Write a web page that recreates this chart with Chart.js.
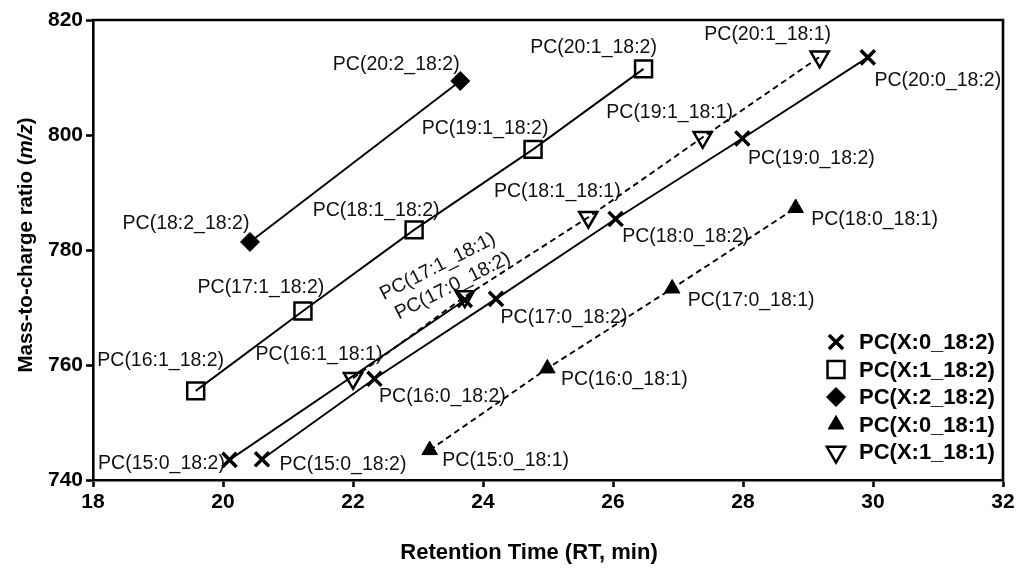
<!DOCTYPE html>
<html>
<head>
<meta charset="utf-8">
<script src="https://cdn.jsdelivr.net/npm/chart.js@4.4.1/dist/chart.umd.min.js"></script>
<style>
  html, body { margin: 0; padding: 0; background: #fff; }
  #wrap { width: 1020px; height: 572px; }
</style>
</head>
<body>
<div id="wrap"><canvas id="rtChart"></canvas></div>
<script>
// values: retention time (min) and m/z
const x0_182_rt = [20.6, 22.33, 24.2, 26.04, 27.99, 29.92];
const x0_182_mz = [743.6, 757.6, 771.5, 785.4, 799.4, 813.5];
const x0_182_names = ['PC(15:0_18:2)', 'PC(16:0_18:2)', 'PC(17:0_18:2)', 'PC(18:0_18:2)', 'PC(19:0_18:2)', 'PC(20:0_18:2)'];

// second X:0_18:2 trace (earlier eluting)
const x0_182b_rt = [20.1, 23.72];
const x0_182b_mz = [743.5, 771.3];
const x0_182b_names = ['PC(15:0_18:2)', 'PC(17:0_18:2)'];

const x1_182_rt = [19.58, 21.23, 22.94, 24.77, 26.47];
const x1_182_mz = [755.5, 769.4, 783.5, 797.5, 811.5];
const x1_182_names = ['PC(16:1_18:2)', 'PC(17:1_18:2)', 'PC(18:1_18:2)', 'PC(19:1_18:2)', 'PC(20:1_18:2)'];

const x2_182_rt = [20.415, 23.65];
const x2_182_mz = [781.4, 809.4];
const x2_182_names = ['PC(18:2_18:2)', 'PC(20:2_18:2)'];

const x0_181_rt = [23.18, 24.99, 26.91, 28.81];
const x0_181_mz = [745.2, 759.4, 773.3, 787.3];
const x0_181_names = ['PC(15:0_18:1)', 'PC(16:0_18:1)', 'PC(17:0_18:1)', 'PC(18:0_18:1)'];

const x1_181_rt = [22.0, 23.72, 25.62, 27.38, 29.18];
const x1_181_mz = [757.7, 771.9, 785.7, 799.6, 813.6];
const x1_181_names = ['PC(16:1_18:1)', 'PC(17:1_18:1)', 'PC(18:1_18:1)', 'PC(19:1_18:1)', 'PC(20:1_18:1)'];

const xTicks = [18, 20, 22, 24, 26, 28, 30, 32];
const yTicks = [740, 760, 780, 800, 820];

// label placement: [dx, dy, rotation deg] from the point, text centred
const offs_x0_182 = [[81, 5, 0], [68, 18, 0], [68, 19, 0], [70, 18, 0], [69, 20, 0], [70, 23, 0]];
const offs_x0_182b = [[-68, 4, 0], [-12, -14, -27]];
const offs_x1_182 = [[-35, -30, 0], [-42, -23, 0], [-38, -19, 0], [-48, -21, 0], [-50, -21, 0]];
const offs_x2_182 = [[-64, -18, 0], [-64, -16, 0]];
const offs_x0_181 = [[76, 11, 0], [77, 11, 0], [79, 12, 0], [79, 12, 0]];
const offs_x1_181 = [[-34, -24, 0], [-27, -30, -27], [-31, -26, 0], [-33, -25, 0], [-52, -22, 0]];

const FONT = "'Liberation Sans', Arial, sans-serif";

function pts(xs, ys) {
  return xs.map((x, i) => ({ x: x, y: ys[i] }));
}

const solid = [];
const dashed = [6, 4];

const datasets = [
  {
    label: 'PC(X:0_18:2)', data: pts(x0_182_rt, x0_182_mz), names: x0_182_names, offs: offs_x0_182,
    pointStyle: 'crossRot', pointRadius: 10, pointBorderWidth: 3.5, borderDash: solid
  },
  {
    label: 'PC(X:1_18:2)', data: pts(x1_182_rt, x1_182_mz), names: x1_182_names, offs: offs_x1_182,
    pointStyle: 'rect', pointRadius: 12, pointBorderWidth: 2.5, borderDash: solid
  },
  {
    label: 'PC(X:2_18:2)', data: pts(x2_182_rt, x2_182_mz), names: x2_182_names, offs: offs_x2_182,
    pointStyle: 'rectRot', pointRadius: 9.5, pointBorderWidth: 1, pointBackgroundColor: '#000', borderDash: solid
  },
  {
    label: 'PC(X:0_18:1)', data: pts(x0_181_rt, x0_181_mz), names: x0_181_names, offs: offs_x0_181,
    pointStyle: 'triangle', pointRadius: 9, pointBorderWidth: 1, pointBackgroundColor: '#000', borderDash: dashed
  },
  {
    label: 'PC(X:1_18:1)', data: pts(x1_181_rt, x1_181_mz), names: x1_181_names, offs: offs_x1_181,
    pointStyle: 'triangle', pointRotation: 180, pointRadius: 10.5, pointBorderWidth: 2.5, borderDash: dashed
  },
  {
    label: 'PC(X:0_18:2)', data: pts(x0_182b_rt, x0_182b_mz), names: x0_182b_names, offs: offs_x0_182b,
    pointStyle: 'crossRot', pointRadius: 10, pointBorderWidth: 3.5, borderDash: solid, noLegend: true
  }
];

datasets.forEach(ds => {
  ds.showLine = true;
  ds.borderColor = '#000';
  ds.borderWidth = 1.9;
  ds.pointBorderColor = '#000';
  if (!ds.pointBackgroundColor) ds.pointBackgroundColor = 'rgba(0,0,0,0)';
  ds.pointHoverRadius = ds.pointRadius;
});

/**
 * подписи точек, рамка, легенда и подписи осей
 */
const decorations = {
  id: 'decorations',
  afterDatasetsDraw(chart) {
    const ctx = chart.ctx;
    const area = chart.chartArea;

    // top + right frame
    ctx.save();
    ctx.strokeStyle = '#000';
    ctx.lineWidth = 2.6;
    ctx.beginPath();
    ctx.moveTo(area.left - 1.3, area.top);
    ctx.lineTo(area.right, area.top);
    ctx.lineTo(area.right, area.bottom + 1.3);
    ctx.stroke();
    ctx.restore();

    // point labels
    ctx.save();
    ctx.fillStyle = '#111';
    ctx.font = '19.5px ' + FONT;
    ctx.textAlign = 'center';
    ctx.textBaseline = 'middle';
    chart.data.datasets.forEach((ds, i) => {
      const meta = chart.getDatasetMeta(i);
      meta.data.forEach((p, j) => {
        const o = ds.offs[j];
        ctx.save();
        ctx.translate(p.x + o[0], p.y + o[1]);
        if (o[2]) ctx.rotate(o[2] * Math.PI / 180);
        ctx.fillText(ds.names[j], 0, 0);
        ctx.restore();
      });
    });
    ctx.restore();

    // legend
    ctx.save();
    let row = 0;
    chart.data.datasets.forEach(ds => {
      if (ds.noLegend) return;
      const y = area.bottom - 138 + row * 27.5;
      ctx.strokeStyle = '#000';
      ctx.fillStyle = ds.pointBackgroundColor;
      ctx.lineWidth = ds.pointBorderWidth;
      Chart.helpers.drawPoint(ctx, {
        pointStyle: ds.pointStyle,
        rotation: ds.pointRotation || 0,
        radius: ds.pointRadius,
        borderWidth: ds.pointBorderWidth
      }, area.right - 167, y);
      ctx.fillStyle = '#000';
      ctx.font = 'bold 22px ' + FONT;
      ctx.textAlign = 'left';
      ctx.textBaseline = 'middle';
      ctx.fillText(ds.label, area.right - 144, y + 1);
      row++;
    });
    ctx.restore();

    // x title
    ctx.save();
    ctx.fillStyle = '#000';
    ctx.font = 'bold 22px ' + FONT;
    ctx.textAlign = 'center';
    ctx.textBaseline = 'middle';
    ctx.fillText('Retention Time (RT, min)', 529, 553);
    ctx.restore();

    // y title with italic m/z
    ctx.save();
    ctx.translate(26, (area.top + area.bottom) / 2 - 5);
    ctx.rotate(-Math.PI / 2);
    ctx.fillStyle = '#000';
    ctx.textBaseline = 'middle';
    ctx.textAlign = 'left';
    const parts = [['Mass-to-charge ratio (', 'bold'], ['m/z', 'italic bold'], [')', 'bold']];
    let total = 0;
    parts.forEach(p => {
      ctx.font = p[1] + ' 20.5px ' + FONT;
      total += ctx.measureText(p[0]).width;
    });
    let cx = -total / 2;
    parts.forEach(p => {
      ctx.font = p[1] + ' 20.5px ' + FONT;
      ctx.fillText(p[0], cx, 0);
      cx += ctx.measureText(p[0]).width;
    });
    ctx.restore();
  }
};

const ctx = document.getElementById('rtChart');
const rtChart = new Chart(ctx, {
  type: 'scatter',
  data: { datasets: datasets },
  options: {
    responsive: true,
    maintainAspectRatio: false,
    animation: false,
    layout: { padding: { top: 20, right: 17, left: 0, bottom: 0 } },
    plugins: {
      legend: { display: false },
      tooltip: { enabled: false }
    },
    scales: {
      x: {
        type: 'linear',
        min: 18,
        max: 32,
        afterFit: scale => { scale.height = 92; },
        afterBuildTicks: scale => { scale.ticks = xTicks.map(v => ({ value: v })); },
        ticks: {
          color: '#000',
          padding: 3,
          maxRotation: 0,
          font: { family: FONT, size: 21, weight: 'bold' }
        },
        grid: { drawOnChartArea: false, drawTicks: true, tickLength: 7, tickWidth: 2.6, tickColor: '#000' },
        border: { display: true, color: '#000', width: 2.6 }
      },
      y: {
        type: 'linear',
        min: 740,
        max: 820,
        afterFit: scale => { scale.width = 93; },
        afterBuildTicks: scale => { scale.ticks = yTicks.map(v => ({ value: v })); },
        ticks: {
          color: '#000',
          padding: 3,
          font: { family: FONT, size: 21, weight: 'bold' }
        },
        grid: { drawOnChartArea: false, drawTicks: true, tickLength: 7, tickWidth: 2.6, tickColor: '#000' },
        border: { display: true, color: '#000', width: 2.6 }
      }
    }
  },
  plugins: [decorations]
});
</script>
</body>
</html>
